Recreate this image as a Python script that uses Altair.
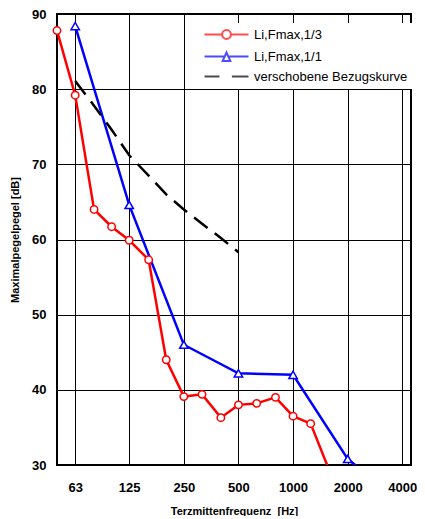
import altair as alt
import pandas as pd

SERIES = ["Li,Fmax,1/3", "Li,Fmax,1/1", "verschobene Bezugskurve"]
COLORS = ["#ff0000", "#0000ff", "#000000"]

red_freq = [50, 63, 80, 100, 125, 160, 200, 250, 315, 400, 500, 630, 800, 1000, 1250, 1600]
red_level = [87.8, 79.2, 64.0, 61.7, 59.9, 57.3, 44.0, 39.1, 39.4, 36.3, 38.0, 38.2, 39.0, 36.5, 35.5, 29.0]

blue_freq = [63, 125, 250, 500, 1000, 2000, 4000]
blue_level = [88.4, 64.6, 46.0, 42.2, 42.0, 30.8, 25.0]

ref_freq = [63, 80, 100, 125, 160, 200, 250, 315, 400, 500]
ref_level = [81.1, 77.8, 74.6, 71.2, 68.5, 66.0, 64.0, 62.1, 60.2, 58.3]

x_ticks = [63, 125, 250, 500, 1000, 2000, 4000]
y_ticks = [30, 40, 50, 60, 70, 80, 90]

rows = []
for name, fs, ls in [(SERIES[0], red_freq, red_level),
                     (SERIES[1], blue_freq, blue_level),
                     (SERIES[2], ref_freq, ref_level)]:
    for f, l in zip(fs, ls):
        rows.append({"freq": f, "level": l, "series": name})
df = pd.DataFrame(rows)

FONT = "Liberation Sans"

x = alt.X("freq:Q",
          scale=alt.Scale(type="log", domain=[50, 4466], nice=False),
          axis=alt.Axis(values=x_ticks, format="d", title="Terzmittenfrequenz\u00a0 [Hz]",
                        labelPadding=16, titlePadding=11, ticks=False, domain=False,
                        grid=True, labelFlush=False))
y = alt.Y("level:Q",
          scale=alt.Scale(domain=[30, 90], nice=False, zero=False),
          axis=alt.Axis(values=y_ticks, title="Maximalpegelpegel [dB]",
                        labelPadding=11, titlePadding=11, ticks=False, domain=False,
                        grid=True))


def only(name):
    return alt.Chart(df).transform_filter(alt.datum.series == name)


red_line = only(SERIES[0]).mark_line(clip=True, strokeWidth=2.5, color=COLORS[0]).encode(x=x, y=y)
blue_line = only(SERIES[1]).mark_line(clip=True, strokeWidth=2.5, color=COLORS[1]).encode(x=x, y=y)
ref_line = only(SERIES[2]).mark_line(clip=True, strokeWidth=2.5, color=COLORS[2],
                                     strokeDash=[17, 9]).encode(x=x, y=y)

red_pts = only(SERIES[0]).transform_filter(alt.datum.level >= 30).mark_point(
    shape="circle", filled=True, fill="white", stroke=COLORS[0], size=55, strokeWidth=1.5, opacity=1
).encode(x=x, y=y)

blue_pts = only(SERIES[1]).transform_filter(alt.datum.level >= 30).mark_point(
    shape="triangle-up", filled=True, fill="white", stroke=COLORS[1], size=70, strokeWidth=1.5, opacity=1
).encode(x=x, y=y)

# legend symbols (unit = 4 px with symbolSize 64)
legend_paths = [
    "M0,0H4.4M6.6,0H11M4.4,0A1.1,1.1 0 1,1 6.6,0A1.1,1.1 0 1,1 4.4,0Z",
    "M0,0H5.05M5.95,0H11M5.5,-1L6.45,1.1L4.55,1.1Z",
    "M0,0H3.75M6.85,0H11",
]

leg = alt.Legend(title=None, orient="none", legendX=136, legendY=9, padding=5,
                 fillColor="white", labelFont=FONT, labelFontSize=13, labelOffset=43,
                 rowPadding=5, symbolSize=64, symbolStrokeWidth=2,
                 symbolFillColor="white", labelColor="black", labelLimit=300)

legend_layer = alt.Chart(df).mark_point(filled=True, fill="white", strokeWidth=2, size=0).encode(
    x=x, y=y,
    stroke=alt.Stroke("series:N", scale=alt.Scale(domain=SERIES, range=COLORS), legend=leg),
    shape=alt.Shape("series:N", scale=alt.Scale(domain=SERIES, range=legend_paths), legend=leg),
)

chart = alt.layer(red_line, blue_line, ref_line, red_pts, blue_pts, legend_layer).properties(
    width=354, height=451,
    padding={"left": 1, "top": 0, "right": 0, "bottom": 0},
).configure_view(
    stroke="black", strokeWidth=2
).configure_axis(
    gridColor="black", gridWidth=1, gridOpacity=1,
    labelFont=FONT, labelFontSize=13, labelFontWeight="bold", labelColor="black",
    titleFont=FONT, titleFontSize=11, titleFontWeight="bold", titleColor="black",
)

chart.save("out.html", embed_options={"renderer": "svg", "actions": False})
